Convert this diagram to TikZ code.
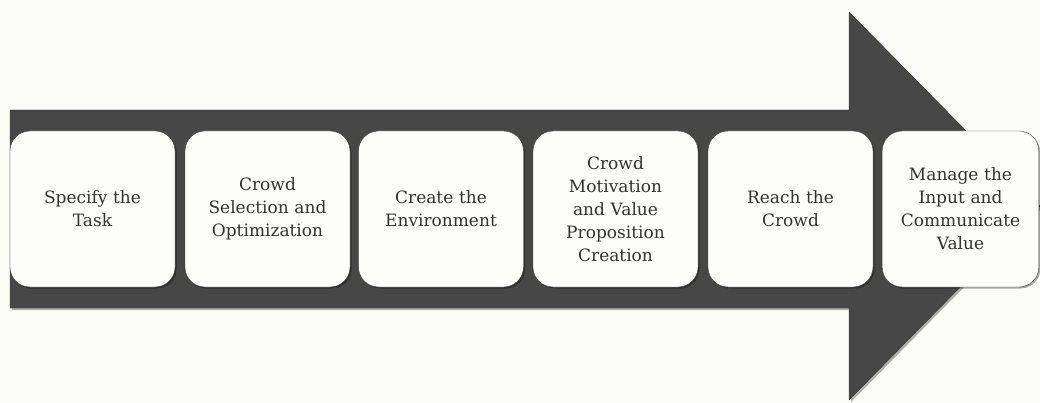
\documentclass[tikz,border=0pt]{standalone}
\usepackage{fontspec}
\setmainfont{DejaVu Serif}
\usepackage{xcolor}
\usetikzlibrary{shadows}
\definecolor{paper}{HTML}{FCFCF7}
\definecolor{arrowgray}{HTML}{474747}
\definecolor{boxfill}{HTML}{FDFDF9}
\definecolor{inkgray}{HTML}{333333}

\begin{document}
\begin{tikzpicture}[x=1pt, y=-1pt,
    stagebox/.style={draw=black!75, fill=boxfill, rounded corners=20pt,
        minimum width=165pt, minimum height=156pt, text width=150pt,
        align=center, text=inkgray, font=\fontsize{17}{23}\selectfont,
        drop shadow={shadow xshift=1.5pt, shadow yshift=-1.5pt, fill=black, opacity=0.35}}]
    % background and size
    \fill[paper] (0,0) rectangle (1040,403);
    \useasboundingbox (0,0) rectangle (1040,403);
    % big arrow
    \draw[fill=arrowgray, draw=black!80,
        drop shadow={shadow xshift=2pt, shadow yshift=-2pt, fill=black, opacity=0.3}]
        (10,110) -- (849,110) -- (849,12) -- (1040,206) -- (849,400)
        -- (849,308) -- (10,308) -- cycle;
    % stages
    \node[stagebox] (task) at (92.5,209) {Specify the\\Task};
    \node[stagebox] (select) at (267.5,209) {Crowd\\Selection and\\Optimization};
    \node[stagebox] (env) at (441,209) {Create the\\Environment};
    \node[stagebox] (motiv) at (615.5,209) {Crowd\\Motivation\\and Value\\Proposition\\Creation};
    \node[stagebox] (reach) at (790.5,209) {Reach the\\Crowd};
    \node[stagebox, minimum width=155pt] (manage) at (960.5,209) {Manage the\\Input and\\Communicate\\Value};
\end{tikzpicture}
\end{document}
